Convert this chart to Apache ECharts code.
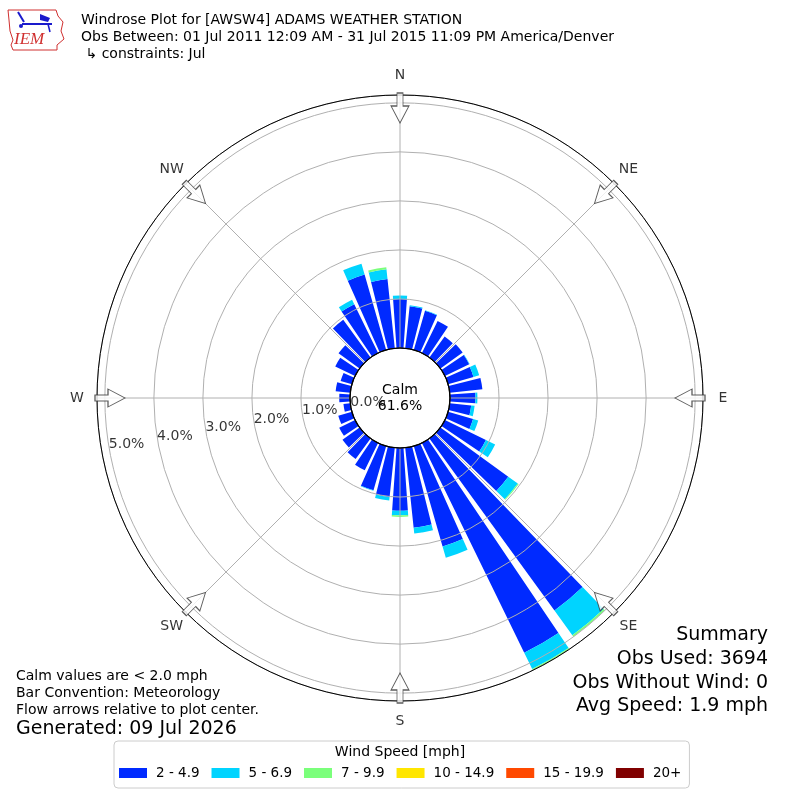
<!DOCTYPE html>
<html>
<head>
<meta charset="utf-8">
<script src="https://cdn.jsdelivr.net/npm/echarts@6/dist/echarts.min.js"></script>
<style>
  html, body { margin: 0; padding: 0; background: #fff; }
  #main { width: 800px; height: 800px; }
</style>
</head>
<body>
<div id="main"></div>
<script type="text/javascript">
// direction bins (degrees, meteorological convention)
var dirs = [0, 10, 20, 30, 40, 50, 60, 70, 80, 90, 100, 110, 120, 130, 140, 150, 160, 170,
            180, 190, 200, 210, 220, 230, 240, 250, 260, 270, 280, 290, 300, 310, 320, 330, 340, 350];

// frequency (%) per speed bin
var spd2_5   = [1.00, 0.86, 0.83, 0.73, 0.53, 0.56, 0.55, 0.54, 0.67, 0.52, 0.44, 0.53, 0.93, 1.71, 4.34, 4.76, 2.13, 1.64,
                1.28, 1.01, 0.94, 0.62, 0.52, 0.43, 0.36, 0.29, 0.14, 0.22, 0.30, 0.24, 0.45, 0.53, 0.95, 1.11, 1.60, 1.42];
var spd5_7   = [0.07, 0.02, 0.01, 0, 0, 0, 0.01, 0.12, 0, 0.04, 0.07, 0.11, 0.21, 0.24, 0.62, 0.37, 0.24, 0.12,
                0.09, 0.07, 0.01, 0, 0, 0, 0, 0, 0, 0, 0, 0, 0, 0, 0, 0.10, 0.23, 0.20];
var spd7_10  = [0, 0, 0, 0, 0, 0, 0, 0, 0, 0, 0, 0, 0, 0.02, 0.04, 0.03, 0, 0,
                0.035, 0, 0, 0, 0, 0, 0, 0, 0, 0, 0, 0, 0, 0, 0, 0, 0, 0.04];
var spd10_15 = [0, 0, 0, 0, 0, 0, 0, 0, 0, 0, 0, 0, 0, 0, 0, 0, 0, 0,
                0, 0, 0, 0, 0, 0, 0, 0, 0, 0, 0, 0, 0, 0, 0, 0, 0, 0];
var spd15_20 = [0, 0, 0, 0, 0, 0, 0, 0, 0, 0, 0, 0, 0, 0, 0, 0, 0, 0,
                0, 0, 0, 0, 0, 0, 0, 0, 0, 0, 0, 0, 0, 0, 0, 0, 0, 0];
var spd20    = [0, 0, 0, 0, 0, 0, 0, 0, 0, 0, 0, 0, 0, 0, 0, 0, 0, 0,
                0, 0, 0, 0, 0, 0, 0, 0, 0, 0, 0, 0, 0, 0, 0, 0, 0, 0];

var binNames  = ['2 - 4.9', '5 - 6.9', '7 - 9.9', '10 - 14.9', '15 - 19.9', '20+'];
var binColors = ['#002aff', '#00d4ff', '#7bff7b', '#ffe600', '#ff4900', '#800000'];

var rTicks      = [0, 1, 2, 3, 4, 5];
var compassAng  = [0, 45, 90, 135, 180, 225, 270, 315];
var compassName = ['N', 'NE', 'E', 'SE', 'S', 'SW', 'W', 'NW'];

var rMax = 5.16;          // outer ring = longest bar
var FONT = 'DejaVu Sans';
var C = [400, 398];

var myChart = echarts.init(document.getElementById('main'));

var binData = [spd2_5, spd5_7, spd7_10, spd10_15, spd15_20, spd20];
var series = binData.map(function (d, i) {
    return {
        name: binNames[i],
        type: 'bar',
        coordinateSystem: 'polar',
        polarIndex: 0,
        stack: 'speed',
        data: d,
        barCategoryGap: '20%',
        itemStyle: { color: binColors[i] },
        z: 2
    };
});

// radius tick labels (placed along the grid polar)
series.push({
    type: 'scatter',
    coordinateSystem: 'polar',
    polarIndex: 1,
    symbolSize: 1,
    itemStyle: { color: 'rgba(0,0,0,0)' },
    silent: true,
    z: 6,
    data: rTicks.map(function (t) { return [t, 260]; }),
    label: {
        show: true,
        position: [0, 0],
        offset: [0, 3],
        align: 'left',
        verticalAlign: 'bottom',
        fontFamily: FONT,
        fontSize: 14,
        color: '#000',
        formatter: function (p) { return p.value[0].toFixed(1) + '%'; }
    }
});

// compass labels
series.push({
    type: 'scatter',
    coordinateSystem: 'polar',
    polarIndex: 2,
    symbolSize: 1,
    itemStyle: { color: 'rgba(0,0,0,0)' },
    silent: true,
    z: 6,
    data: compassAng.map(function (a, i) { return { value: [323, a], name: compassName[i] }; }),
    label: {
        show: true,
        position: 'inside',
        fontFamily: FONT,
        fontSize: 14,
        color: '#000',
        formatter: '{b}'
    }
});

// flow arrows
series.push({
    type: 'scatter',
    coordinateSystem: 'polar',
    polarIndex: 2,
    silent: true,
    z: 7,
    symbol: 'path://M6,0 L12,0 L12,13 L18,13 L9,30 L0,13 L6,13 Z',
    symbolSize: [18, 30],
    itemStyle: { color: '#fff', borderColor: '#333', borderWidth: 1 },
    data: compassAng.map(function (a) { return { value: [290, a], symbolRotate: -a }; })
});

var option = {
    animation: false,
    backgroundColor: '#fff',
    polar: [
        { center: C, radius: [50, 303] },   // bars
        { center: C, radius: [50, 303] },   // grid
        { center: C, radius: [0, 323] },    // compass
        { center: C, radius: [0, 50] }      // calm circle
    ],
    angleAxis: [
        { polarIndex: 0, type: 'category', data: dirs, startAngle: 95, clockwise: true, show: false },
        { polarIndex: 1, type: 'value', min: 0, max: 360, interval: 45, startAngle: 90, clockwise: true, z: 4,
          axisLine: { show: true, lineStyle: { color: '#000', width: 1 } },
          axisTick: { show: false }, axisLabel: { show: false },
          splitLine: { show: true, lineStyle: { color: '#b0b0b0', width: 1 } } },
        { polarIndex: 2, type: 'value', min: 0, max: 360, startAngle: 90, clockwise: true, show: false },
        { polarIndex: 3, type: 'value', min: 0, max: 360, startAngle: 90, clockwise: true, z: 5,
          axisLine: { show: true, lineStyle: { color: '#000', width: 1.2 } },
          axisTick: { show: false }, axisLabel: { show: false }, splitLine: { show: false } }
    ],
    radiusAxis: [
        { polarIndex: 0, type: 'value', min: 0, max: rMax, show: false },
        { polarIndex: 1, type: 'value', min: 0, max: rMax, interval: 1, z: 4,
          axisLine: { show: false }, axisTick: { show: false }, axisLabel: { show: false },
          splitLine: { show: true, lineStyle: { color: '#b0b0b0', width: 1 } } },
        { polarIndex: 2, type: 'value', min: 0, max: 323, show: false },
        { polarIndex: 3, type: 'value', min: 0, max: 1, show: false }
    ],
    legend: {
        data: binNames,
        left: 114,
        top: 741,
        orient: 'horizontal',
        padding: [25, 8, 8, 5],
        borderColor: '#cccccc',
        borderWidth: 1,
        borderRadius: 4,
        itemWidth: 28,
        itemHeight: 10,
        itemGap: 12,
        icon: 'rect',
        selectedMode: false,
        textStyle: { fontFamily: FONT, fontSize: 13.5, color: '#000', padding: [0, 0, 0, 4] }
    },
    graphic: [
        // calm circle fill + text
        { type: 'circle', shape: { cx: C[0], cy: C[1], r: 49.5 }, style: { fill: '#fff' }, z: 4 },
        { type: 'text', x: C[0], y: C[1], z: 10,
          style: { text: 'Calm\n61.6%', font: '14px "DejaVu Sans"', fill: '#000', align: 'center', verticalAlign: 'middle', lineHeight: 16 } },

        // header
        { type: 'text', x: 81, y: 20, style: { text: 'Windrose Plot for [AWSW4] ADAMS WEATHER STATION', font: '14px "DejaVu Sans"', fill: '#000', verticalAlign: 'middle' } },
        { type: 'text', x: 81, y: 37, style: { text: 'Obs Between: 01 Jul 2011 12:09 AM - 31 Jul 2015 11:09 PM America/Denver', font: '14px "DejaVu Sans"', fill: '#000', verticalAlign: 'middle' } },
        { type: 'text', x: 81, y: 54, style: { text: ' \u21b3 constraints: Jul', font: '14px "DejaVu Sans"', fill: '#000', verticalAlign: 'middle' } },

        // logo
        { type: 'polygon', z: 1,
          shape: { points: [[8, 10], [56, 10], [58, 16], [63, 22], [61, 31], [64, 39], [57, 45], [57, 50], [13, 50], [11, 45], [13, 40], [10, 31], [9, 20]] },
          style: { fill: '#fff', stroke: '#d03030', lineWidth: 1 } },
        { type: 'line', z: 3, shape: { x1: 22, y1: 24, x2: 52, y2: 24 }, style: { stroke: '#1a1acc', lineWidth: 2 } },
        { type: 'line', z: 3, shape: { x1: 18, y1: 12, x2: 24, y2: 22 }, style: { stroke: '#1a1acc', lineWidth: 2 } },
        { type: 'polygon', z: 3, shape: { points: [[40, 14], [50, 18], [48, 22], [40, 20]] }, style: { fill: '#1a1acc' } },
        { type: 'line', z: 3, shape: { x1: 48, y1: 24, x2: 50, y2: 32 }, style: { stroke: '#1a1acc', lineWidth: 1.5 } },
        { type: 'circle', z: 3, shape: { cx: 21, cy: 26, r: 2 }, style: { fill: '#1a1acc' } },
        { type: 'text', z: 3, x: 14, y: 40, style: { text: 'IEM', font: 'italic 17px "Liberation Serif"', fill: '#d03030', verticalAlign: 'middle' } },

        // notes
        { type: 'text', x: 16, y: 676, style: { text: 'Calm values are < 2.0 mph', font: '14px "DejaVu Sans"', fill: '#000', verticalAlign: 'middle' } },
        { type: 'text', x: 16, y: 693, style: { text: 'Bar Convention: Meteorology', font: '14px "DejaVu Sans"', fill: '#000', verticalAlign: 'middle' } },
        { type: 'text', x: 16, y: 710, style: { text: 'Flow arrows relative to plot center.', font: '14px "DejaVu Sans"', fill: '#000', verticalAlign: 'middle' } },
        { type: 'text', x: 16, y: 729, style: { text: 'Generated: 09 Jul 2026', font: '19px "DejaVu Sans"', fill: '#000', verticalAlign: 'middle' } },

        // summary
        { type: 'text', x: 768, y: 635, style: { text: 'Summary', font: '19px "DejaVu Sans"', fill: '#000', align: 'right', verticalAlign: 'middle' } },
        { type: 'text', x: 768, y: 659, style: { text: 'Obs Used: 3694', font: '19px "DejaVu Sans"', fill: '#000', align: 'right', verticalAlign: 'middle' } },
        { type: 'text', x: 768, y: 683, style: { text: 'Obs Without Wind: 0', font: '19px "DejaVu Sans"', fill: '#000', align: 'right', verticalAlign: 'middle' } },
        { type: 'text', x: 768, y: 706, style: { text: 'Avg Speed: 1.9 mph', font: '19px "DejaVu Sans"', fill: '#000', align: 'right', verticalAlign: 'middle' } },

        // legend title
        { type: 'text', x: 400, y: 752, z: 10, style: { text: 'Wind Speed [mph]', font: '14px "DejaVu Sans"', fill: '#000', align: 'center', verticalAlign: 'middle' } }
    ],
    series: series
};

myChart.setOption(option);
</script>
</body>
</html>
